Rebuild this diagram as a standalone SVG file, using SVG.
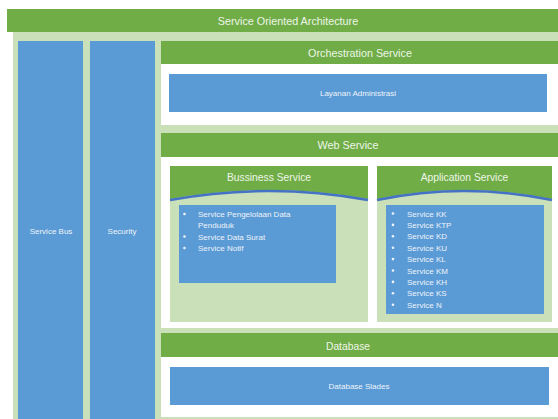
<svg xmlns="http://www.w3.org/2000/svg" width="558" height="419" viewBox="0 0 558 419">
<style>
.hdr{fill:#70ad47}
.lg{fill:#c9e0b8}
.blue{fill:#5b9bd5}
.wh{fill:#ffffff}
.t{font-family:"Liberation Sans",Arial,sans-serif;fill:#eef5e8;text-anchor:middle}
.big{font-size:10.8px}
.mid{font-size:10.3px}
.sm{font-size:8px;fill:#eef3fa}
.li{font-family:"Liberation Sans",Arial,sans-serif;font-size:8px;fill:#eef3fa}
.dot{fill:#eef3fa}
</style>
<rect x="0" y="0" width="558" height="419" fill="#ffffff"/>
<g id="soa">
<rect class="lg" x="13" y="32" width="545" height="387"/>
<rect class="hdr" x="7" y="9" width="551" height="23"/>
<text class="t big" x="288" y="25">Service Oriented Architecture</text>
</g>
<g id="service-bus">
<rect class="blue" x="18" y="41" width="65" height="378"/>
<text class="t sm" x="51" y="233.5">Service Bus</text>
</g>
<g id="security">
<rect class="blue" x="90" y="41" width="65" height="378"/>
<text class="t sm" x="122" y="233.5">Security</text>
</g>
<g id="orchestration">
<rect class="wh" x="161" y="41" width="397" height="84"/>
<rect class="hdr" x="161" y="41" width="397" height="23"/>
<text class="t big" x="360" y="56.5">Orchestration Service</text>
</g>
<g id="layanan">
<rect class="blue" x="169" y="74" width="378" height="38"/>
<text class="t sm" x="358" y="96">Layanan Administrasi</text>
</g>
<g id="web-service">
<rect class="wh" x="161" y="133" width="397" height="195"/>
<rect class="hdr" x="161" y="133" width="397" height="24"/>
<text class="t big" x="348" y="149">Web Service</text>
</g>
<g id="bussiness-service">
<rect class="lg" x="170" y="166" width="198" height="156"/>
<path class="hdr" d="M170,166 H368 V199 Q269,181 170,199 Z"/>
<path d="M170,200 Q269,182 368,200" fill="none" stroke="#4472c4" stroke-width="2.5"/>
<text class="t mid" x="269" y="181">Bussiness Service</text>
<rect class="blue" x="179" y="205" width="157" height="78"/>
<circle class="dot" cx="184.5" cy="214" r="1.3"/>
<circle class="dot" cx="184.5" cy="236.5" r="1.3"/>
<circle class="dot" cx="184.5" cy="248" r="1.3"/>
<text class="li" x="198" y="217">Service Pengelolaan Data</text>
<text class="li" x="198" y="228.3">Penduduk</text>
<text class="li" x="198" y="239.6">Service Data Surat</text>
<text class="li" x="198" y="251">Service Notif</text>
</g>
<g id="application-service">
<rect class="lg" x="377" y="166" width="175" height="156"/>
<path class="hdr" d="M377,166 H552 V199 Q464.5,181 377,199 Z"/>
<path d="M377,200 Q464.5,182 552,200" fill="none" stroke="#4472c4" stroke-width="2.5"/>
<text class="t mid" x="464.5" y="181">Application Service</text>
<rect class="blue" x="386" y="205" width="158" height="109"/>
<g class="dot">
<circle cx="393" cy="213.5" r="1.3"/>
<circle cx="393" cy="224.9" r="1.3"/>
<circle cx="393" cy="236.3" r="1.3"/>
<circle cx="393" cy="247.7" r="1.3"/>
<circle cx="393" cy="259.1" r="1.3"/>
<circle cx="393" cy="270.5" r="1.3"/>
<circle cx="393" cy="281.9" r="1.3"/>
<circle cx="393" cy="293.3" r="1.3"/>
<circle cx="393" cy="304.7" r="1.3"/>
</g>
<text class="li" x="407" y="216.5">Service KK</text>
<text class="li" x="407" y="227.9">Service KTP</text>
<text class="li" x="407" y="239.3">Service KD</text>
<text class="li" x="407" y="250.7">Service KU</text>
<text class="li" x="407" y="262.1">Service KL</text>
<text class="li" x="407" y="273.5">Service KM</text>
<text class="li" x="407" y="284.9">Service KH</text>
<text class="li" x="407" y="296.3">Service KS</text>
<text class="li" x="407" y="307.7">Service N</text>
</g>
<g id="database">
<rect class="wh" x="161" y="333" width="397" height="84"/>
<rect class="hdr" x="161" y="333" width="397" height="24"/>
<text class="t mid" x="348" y="349.5">Database</text>
</g>
<g id="database-slades">
<rect class="blue" x="170" y="367" width="379" height="38"/>
<text class="t sm" x="359" y="389">Database Slades</text>
</g>
<g id="connectors"></g>
</svg>
